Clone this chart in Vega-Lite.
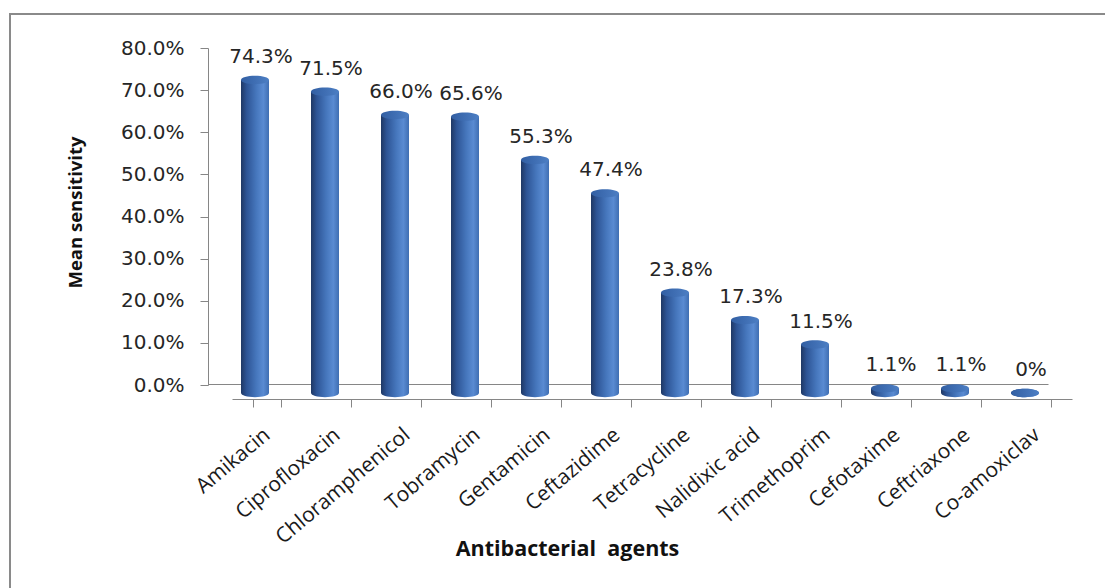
{
  "$schema": "https://vega.github.io/schema/vega-lite/v6.json",
  "width": 1100,
  "height": 580,
  "autosize": {"type": "none"},
  "padding": {"left": 10, "top": 14, "right": -5, "bottom": -6},
  "background": "white",
  "config": {"view": {"stroke": "#8a8a8a", "strokeWidth": 2}},
  "data": {"values": [
    {"agent": "Amikacin", "value": 0.743, "label": "74.3%"},
    {"agent": "Ciprofloxacin", "value": 0.715, "label": "71.5%"},
    {"agent": "Chloramphenicol", "value": 0.660, "label": "66.0%"},
    {"agent": "Tobramycin", "value": 0.656, "label": "65.6%"},
    {"agent": "Gentamicin", "value": 0.553, "label": "55.3%"},
    {"agent": "Ceftazidime", "value": 0.474, "label": "47.4%"},
    {"agent": "Tetracycline", "value": 0.238, "label": "23.8%"},
    {"agent": "Nalidixic acid", "value": 0.173, "label": "17.3%"},
    {"agent": "Trimethoprim", "value": 0.115, "label": "11.5%"},
    {"agent": "Cefotaxime", "value": 0.011, "label": "1.1%"},
    {"agent": "Ceftriaxone", "value": 0.011, "label": "1.1%"},
    {"agent": "Co-amoxiclav", "value": 0.0, "label": "0%"}
  ]},
  "resolve": {"axis": {"x": "independent"}},
  "layer": [
    {
      "mark": {
        "type": "point",
        "shape": "M-1,0A1,0.3,0,1,1,1,0A1,0.3,0,1,1,-1,0Z",
        "size": 784, "filled": true, "opacity": 1, "strokeWidth": 0, "yOffset": 8,
        "fill": {"gradient": "linear", "x1": 0, "x2": 1, "y1": 0, "y2": 0,
          "stops": [
            {"offset": 0, "color": "#1f3864"},
            {"offset": 0.2, "color": "#2d5495"},
            {"offset": 0.55, "color": "#4677bd"},
            {"offset": 0.8, "color": "#5a8bd2"},
            {"offset": 1, "color": "#3f6eb2"}
          ]}
      },
      "encoding": {
        "x": {
          "field": "agent", "type": "nominal", "sort": null,
          "scale": {"range": [210, 1050], "paddingInner": 0.6, "paddingOuter": 0.3},
          "axis": {
            "orient": "bottom", "offset": -207, "translate": 12.5,
            "tickBand": "extent", "tickSize": 8,
            "labelAngle": -40, "labelAlign": "right", "labelBaseline": "middle",
            "labelPadding": 25, "labelOffset": 0, "labelFont": "Open Sans", "labelFontSize": 21,
            "labelColor": "#1a1a1a", "labelOverlap": false,
            "domainColor": "#868686", "tickColor": "#868686",
            "title": "Antibacterial\u00a0 agents", "titleFont": "Open Sans", "titleFontSize": 21.5,
            "titleFontWeight": "bold", "titleColor": "#111111",
            "titleX": 545, "titleY": 150, "titleBaseline": "middle", "titleAlign": "center"
          }
        },
        "y": {"datum": 0, "type": "quantitative", "scale": {"domain": [0, 0.8], "range": [371, 34]}}
      }
    },
    {
      "mark": {
        "type": "bar", "yOffset": 8, "y2Offset": 8,
        "fill": {"gradient": "linear", "x1": 0, "x2": 1, "y1": 0, "y2": 0,
          "stops": [
            {"offset": 0, "color": "#1f3864"},
            {"offset": 0.2, "color": "#2d5495"},
            {"offset": 0.55, "color": "#4677bd"},
            {"offset": 0.8, "color": "#5a8bd2"},
            {"offset": 1, "color": "#3f6eb2"}
          ]}
      },
      "encoding": {
        "x": {"field": "agent", "type": "nominal", "sort": null, "axis": null},
        "y": {
          "field": "value", "type": "quantitative",
          "scale": {"domain": [0, 0.8], "range": [371, 34]},
          "axis": {
            "orient": "left", "offset": -198,
            "values": [0, 0.1, 0.2, 0.3, 0.4, 0.5, 0.6, 0.7, 0.8],
            "format": ".1%", "grid": false, "tickSize": 8, "labelPadding": 16,
            "labelFont": "DejaVu Sans", "labelFontSize": 20, "labelColor": "#262626",
            "domainColor": "#868686", "tickColor": "#868686",
            "title": "Mean sensitivity", "titleFont": "Open Sans", "titleFontSize": 18.5,
            "titleFontWeight": "bold", "titleColor": "#111111",
            "titleX": -133, "titleY": 198, "titleBaseline": "middle"
          }
        },
        "y2": {"datum": 0}
      }
    },
    {
      "mark": {
        "type": "point",
        "shape": "M-1,0A1,0.3,0,1,1,1,0A1,0.3,0,1,1,-1,0Z",
        "size": 784, "filled": true, "opacity": 1, "strokeWidth": 0, "yOffset": 8,
        "fill": {"gradient": "linear", "x1": 0, "x2": 1, "y1": 0, "y2": 0,
          "stops": [
            {"offset": 0, "color": "#325fa3"},
            {"offset": 0.5, "color": "#3f6eb3"},
            {"offset": 1, "color": "#4d7fc4"}
          ]}
      },
      "encoding": {
        "x": {"field": "agent", "type": "nominal", "sort": null, "axis": null},
        "y": {"field": "value", "type": "quantitative"}
      }
    },
    {
      "mark": {
        "type": "text", "dx": 6, "dy": -5, "baseline": "bottom", "align": "center",
        "font": "DejaVu Sans", "fontSize": 20, "color": "#262626"
      },
      "encoding": {
        "x": {
          "field": "agent", "type": "nominal", "sort": null,
          "axis": {
            "orient": "top", "offset": -382, "translate": -11.5,
            "domain": true, "ticks": false, "labels": false, "grid": false, "title": null,
            "domainColor": "#868686"
          }
        },
        "y": {"field": "value", "type": "quantitative"},
        "text": {"field": "label"}
      }
    }
  ]
}
